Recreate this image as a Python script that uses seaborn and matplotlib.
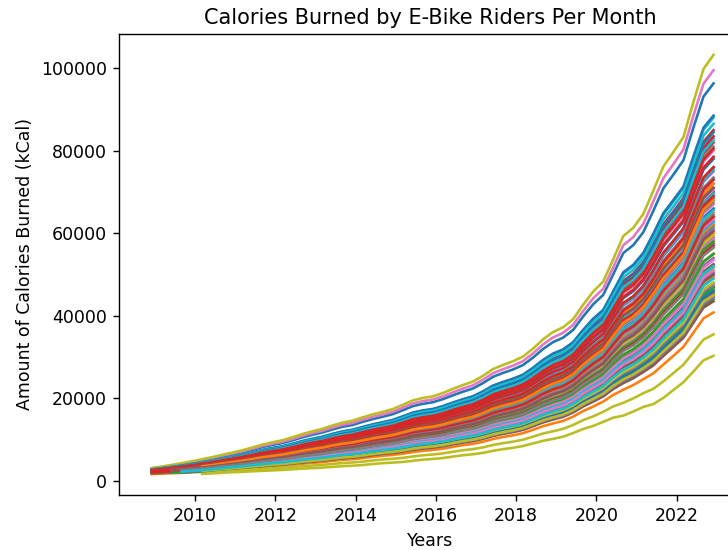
import numpy as np
import pandas as pd
import matplotlib
matplotlib.use("Agg")
import matplotlib.pyplot as plt
import seaborn as sns

# quarterly time points (fractional years), Dec 2008 .. Dec 2022
quarters = np.round(np.arange(2008.92, 2022.93, 0.25), 2)

# cumulative kCal of the highest rider (top olive curve)
upper = np.array([
    3100, 3470, 3870, 4270, 4730, 5230, 5730, 6300, 6830, 7400,
    8070, 8770, 9330, 9830, 10530, 11330, 12000, 12600, 13400, 14100,
    14570, 15370, 16100, 16700, 17370, 18400, 19470, 20070, 20470, 21270,
    22270, 23200, 24030, 25430, 27070, 28070, 28970, 30100, 32030, 34270,
    36070, 37200, 39170, 42670, 45870, 48270, 53670, 59300, 61330, 64670,
    70330, 76170, 79670, 83300, 91830, 99800, 103200,
])

# cumulative kCal of the lowest rider (bottom olive curve)
lower = np.array([
    1400, 1450, 1500, 1550, 1600, 1680, 1800, 1950, 2070, 2170,
    2300, 2420, 2520, 2650, 2800, 2950, 3070, 3200, 3380, 3550,
    3670, 3830, 4070, 4280, 4420, 4580, 4850, 5120, 5300, 5520,
    5870, 6200, 6430, 6770, 7270, 7670, 8000, 8430, 9070, 9700,
    10170, 10700, 11570, 12570, 13300, 14300, 15300, 15800, 16800, 17900,
    18600, 20100, 22000, 23900, 26500, 29200, 30300,
])

# total kCal per rider at Dec 2022 (plot order, 10 per row)
rider_end = [
    96300, 40800, 44000, 85000, 75000, 47000, 99500, 83000, 103200, 88000,
    88500, 52000, 45000, 83500, 72000, 43500, 80000, 81000, 30300, 86500,
    84500, 55000, 46000, 82000, 69000, 52500, 76000, 78500, 35500, 82500,
    78000, 60000, 47000, 80500, 63000, 57500, 73000, 76000, 70000, 75500,
    70000, 65000, 48000, 78500, 59000, 64000, 70500, 73500, 64000, 69500,
    66000, 72000, 50000, 76000, 54000, 68500, 67000, 71000, 59500, 65500,
    62000, 49500, 44500, 73000, 50500, 71000, 63500, 67500, 55000, 62500,
    57000, 58000, 46500, 69000, 47500, 50000, 58500, 64500, 51500, 57000,
    52000, 62000, 55000, 64000, 44500, 45500, 53500, 61500, 48000, 52000,
    46000, 68000, 58000, 57000, 61000, 60500, 51000, 56500, 45000, 49000,
]

# first month each rider shows up
rider_start = [
    2008.92, 2008.92, 2009.67, 2008.92, 2008.92, 2008.92, 2008.92, 2008.92, 2008.92, 2008.92,
    2008.92, 2008.92, 2010.67, 2008.92, 2008.92, 2009.67, 2008.92, 2008.92, 2010.17, 2008.92,
    2008.92, 2009.42, 2010.67, 2008.92, 2008.92, 2008.92, 2009.67, 2008.92, 2010.42, 2008.92,
    2008.92, 2009.42, 2009.67, 2008.92, 2009.42, 2009.67, 2008.92, 2008.92, 2008.92, 2008.92,
    2008.92, 2009.67, 2010.17, 2008.92, 2009.42, 2008.92, 2009.42, 2008.92, 2009.42, 2009.42,
    2008.92, 2009.67, 2009.67, 2008.92, 2009.67, 2009.42, 2008.92, 2008.92, 2009.67, 2008.92,
    2009.42, 2009.67, 2009.42, 2008.92, 2009.67, 2009.42, 2009.42, 2008.92, 2009.67, 2009.42,
    2009.42, 2010.17, 2009.42, 2008.92, 2009.67, 2009.67, 2009.67, 2009.42, 2009.67, 2009.42,
    2009.67, 2010.17, 2008.92, 2008.92, 2010.17, 2010.17, 2009.67, 2009.42, 2009.67, 2009.67,
    2009.67, 2010.17, 2009.67, 2008.92, 2009.42, 2009.42, 2009.67, 2009.67, 2010.17, 2009.67,
]

# long table: one row per rider per quarter
frames = []
for i, (end, start) in enumerate(zip(rider_end, rider_start)):
    w = (end - lower[-1]) / (upper[-1] - lower[-1])
    kcal = lower + w * (upper - lower)
    keep = quarters >= start - 0.01
    frames.append(pd.DataFrame({
        'rider': f'R{i:03d}',
        'year': quarters[keep],
        'kcal': kcal[keep],
    }))
df = pd.concat(frames, ignore_index=True)

riders = [f'R{i:03d}' for i in range(len(rider_end))]
tab10 = sns.color_palette('tab10')
palette = [tab10[i % 10] for i in range(len(riders))]

# the original was rendered at a larger scale and cropped on the right
fig = plt.figure(figsize=(728 / 125, 550 / 125), dpi=125)
ax = fig.add_axes([119 / 728, 55 / 550, 623 / 728, 461 / 550])
sns.lineplot(data=df, x='year', y='kcal', hue='rider', hue_order=riders,
             palette=palette, legend=False, errorbar=None, linewidth=1.5, ax=ax)
ax.set_xlim(2008.1, 2023.63)
ax.set_title('Calories Burned by E-Bike Riders Per Month')
ax.set_xlabel('Years')
ax.set_ylabel('Amount of Calories Burned (kCal)')

fig.savefig("out.png", dpi=125)
